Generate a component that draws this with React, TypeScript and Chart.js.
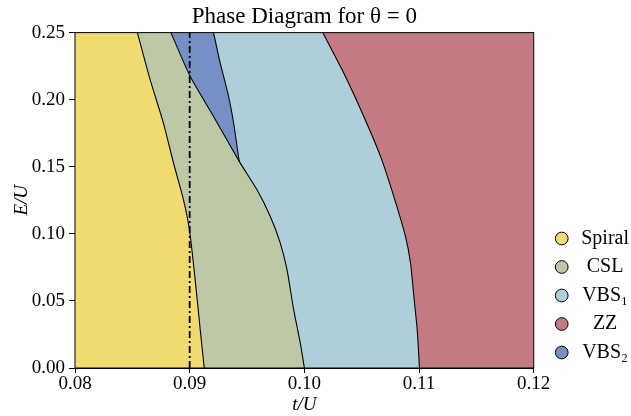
import React, { useEffect, useRef } from 'react';
import { Chart, registerables } from 'chart.js';

Chart.register(...registerables);

const xTicks = [0.08, 0.09, 0.1, 0.11, 0.12];
const yTicks = [0, 0.05, 0.1, 0.15, 0.2, 0.25];
const phaseNames = ['Spiral', 'CSL', 'VBS₁', 'ZZ', 'VBS₂'];
const phaseColors = ['#f2db6e', '#bdc9a6', '#aecfd9', '#c47a81', '#7590c4'];

// Spiral | CSL boundary (bottom -> top)
const spiralCslT = [0.09127, 0.09092, 0.09048, 0.08998, 0.08946, 0.08859, 0.08771, 0.08655, 0.08544];
const spiralCslE = [0, 0.0284, 0.0657, 0.103, 0.1254, 0.1528, 0.1826, 0.2149, 0.25];
// CSL | VBS1 (lower part) and CSL | VBS2 (upper part), bottom -> top
const cslRightT = [0.1, 0.09965, 0.09907, 0.09849, 0.0979, 0.09703, 0.09587, 0.09432, 0.09208, 0.09004, 0.08836];
const cslRightE = [0, 0.0184, 0.0433, 0.0731, 0.0931, 0.1129, 0.1328, 0.154, 0.1875, 0.2174, 0.25];
const tipIndex = 7;
// VBS2 | VBS1 boundary (tip -> top)
const vbs2RightT = [0.09432, 0.09383, 0.09339, 0.09266, 0.09208];
const vbs2RightE = [0.154, 0.1826, 0.2025, 0.2274, 0.25];
// VBS1 | ZZ boundary (bottom -> top)
const zzLeftT = [0.11004, 0.10984, 0.10955, 0.10926, 0.10882, 0.1078, 0.10664, 0.10518, 0.10343, 0.1016];
const zzLeftE = [0, 0.0284, 0.0532, 0.0781, 0.098, 0.1278, 0.1577, 0.1875, 0.2199, 0.25];
const cutT = 0.09;
const tMin = 0.08, tMax = 0.12, eMin = 0, eMax = 0.25;

type P = { x: number; y: number };
const zip = (t: number[], e: number[]): P[] => t.map((v, i) => ({ x: v, y: e[i] }));
const rev = (a: P[]) => a.slice().reverse();

export default function App() {
  const ref = useRef<HTMLCanvasElement>(null);
  useEffect(() => {
    const S = zip(spiralCslT, spiralCslE);
    const C = zip(cslRightT, cslRightE);
    const V = zip(vbs2RightT, vbs2RightE);
    const Z = zip(zzLeftT, zzLeftE);
    const polys: P[][] = [
      [{ x: tMin, y: eMin }, ...S, { x: tMin, y: eMax }],
      [...S, ...rev(C)],
      [...C.slice(0, tipIndex + 1), ...V.slice(1), ...rev(Z)],
      [...Z, { x: tMax, y: eMax }, { x: tMax, y: eMin }],
      [...C.slice(tipIndex), ...rev(V)],
    ];
    const fillSets = polys.map((p, i) => ({
      label: phaseNames[i],
      data: p,
      fill: 'shape',
      backgroundColor: phaseColors[i],
      borderColor: 'rgba(0,0,0,0)',
      borderWidth: 0,
      pointRadius: 0,
      tension: 0,
      order: 3,
    }));
    const lineSets = [S, C, V, Z].map((p) => ({
      label: '_line',
      data: p,
      fill: false,
      borderColor: '#000',
      borderWidth: 1.1,
      pointRadius: 0,
      tension: 0.2,
      order: 2,
    }));
    const cutSet = {
      label: '_cut',
      data: [{ x: cutT, y: eMin }, { x: cutT, y: eMax }],
      fill: false,
      borderColor: '#000',
      borderWidth: 1.8,
      borderDash: [7, 3, 2, 3],
      pointRadius: 0,
      order: 1,
    };
    const frame = {
      id: 'frame',
      afterLayout(chart: any) {
        const lg = chart.legend;
        if (lg) {
          lg.left += 15;
          lg.right += 15;
          lg.top += 3;
          lg.bottom += 3;
        }
      },
      afterDatasetsDraw(chart: any) {
        const { ctx, chartArea: a } = chart;
        ctx.save();
        ctx.strokeStyle = '#000';
        ctx.lineWidth = 1;
        ctx.strokeRect(a.left, a.top, a.right - a.left, a.bottom - a.top);
        ctx.restore();
      },
    };
    const font = { family: "'Liberation Serif', serif", size: 19 };
    const legendFont = { family: "'Liberation Serif', serif", size: 20 };
    const chart = new Chart(ref.current!, {
      type: 'line',
      data: { datasets: [...fillSets, ...lineSets, cutSet] as any },
      plugins: [frame],
      options: {
        responsive: false,
        animation: false,
        layout: { padding: { left: 0, right: 12, top: 0, bottom: 0 } },
        scales: {
          x: {
            type: 'linear',
            min: tMin,
            max: tMax,
            afterBuildTicks: (s: any) => { s.ticks = xTicks.map((v) => ({ value: v })); },
            afterFit: (s: any) => { s.height = 48; },
            ticks: { color: '#000', font, padding: 0, maxRotation: 0, callback: (v: any) => Number(v).toFixed(2) },
            grid: { drawOnChartArea: false, drawTicks: true, tickLength: 5, color: '#000' },
            border: { color: '#000', width: 1 },
            title: { display: true, text: 't/U', color: '#000', font: { ...font, style: 'italic' }, padding: { top: 0, bottom: 0 } },
          },
          y: {
            type: 'linear',
            min: eMin,
            max: eMax,
            afterBuildTicks: (s: any) => { s.ticks = yTicks.map((v) => ({ value: v })); },
            afterFit: (s: any) => { s.width = 75; },
            ticks: { color: '#000', font, padding: 4, callback: (v: any) => Number(v).toFixed(2) },
            grid: { drawOnChartArea: false, drawTicks: true, tickLength: 6, color: '#000' },
            border: { color: '#000', width: 1 },
            title: { display: true, text: 'E/U', color: '#000', font: { ...font, style: 'italic' }, padding: { top: 11, bottom: 4 } },
          },
        },
        plugins: {
          title: {
            display: true,
            text: 'Phase Diagram for θ = 0',
            color: '#000',
            font: { family: "'Liberation Serif', serif", size: 23, weight: 'normal' },
            padding: { top: 3, bottom: 2 },
            fullSize: false,
          },
          legend: {
            position: 'right',
            align: 'end',
            fullSize: false,
            labels: {
              usePointStyle: true,
              pointStyle: 'circle',
              boxWidth: 9,
              boxHeight: 9,
              padding: 8.5,
              color: '#000',
              font: legendFont,
              textAlign: 'center',
              generateLabels: () =>
                phaseNames.map((n, i) => ({
                  text: n,
                  fillStyle: phaseColors[i],
                  strokeStyle: '#000',
                  lineWidth: 1,
                  pointStyle: 'circle',
                  hidden: false,
                  datasetIndex: i,
                })),
            },
          },
          tooltip: { enabled: false },
        },
      } as any,
    });
    return () => chart.destroy();
  }, []);
  return (
    <div style={{ position: 'fixed', left: 0, top: 0, width: 631, height: 416, background: '#fff' }}>
      <canvas ref={ref} width={631} height={416} style={{ display: 'block' }} />
    </div>
  );
}
